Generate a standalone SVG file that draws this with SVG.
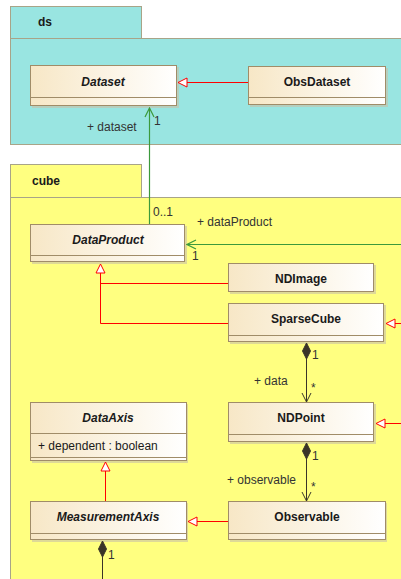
<svg xmlns="http://www.w3.org/2000/svg" width="401" height="579" viewBox="0 0 401 579">
<defs>
<linearGradient id="cls" x1="0" y1="0" x2="1" y2="0">
<stop offset="0" stop-color="#f7e7c6"/>
<stop offset="1" stop-color="#ffffff"/>
</linearGradient>
<marker id="gen" markerWidth="12" markerHeight="12" refX="11" refY="6" orient="auto" markerUnits="userSpaceOnUse">
<path d="M11,6 L2,1.5 L2,10.5 Z" fill="#ffffff" stroke="#ff0000" stroke-width="1"/>
</marker>
<marker id="open" markerWidth="12" markerHeight="12" refX="11" refY="6" orient="auto" markerUnits="userSpaceOnUse">
<path d="M2,1.5 L11,6 L2,10.5" fill="none" stroke="#3a3a2a" stroke-width="1"/>
</marker>
<marker id="openg" markerWidth="12" markerHeight="12" refX="11" refY="6" orient="auto" markerUnits="userSpaceOnUse">
<path d="M2,1.5 L11,6 L2,10.5" fill="none" stroke="#3c9a3c" stroke-width="1.2"/>
</marker>
<marker id="dia" markerWidth="20" markerHeight="12" refX="1" refY="6" orient="auto" markerUnits="userSpaceOnUse">
<path d="M1,6 L9,2 L17,6 L9,10 Z" fill="#3a3428" stroke="#3a3428" stroke-width="1"/>
</marker>
</defs>
<style>
.pkg{stroke:#a8a488;stroke-width:1}
.cls{fill:url(#cls);stroke:#a08c68;stroke-width:1}
.div{stroke:#a08c68;stroke-width:1}
.shadow{fill:#c8c0a8;opacity:0.6}
.t{font-family:"Liberation Sans",Arial,sans-serif;font-size:12px;fill:#1a1a1a}
.nm{font-weight:bold;text-anchor:middle}
.it{font-style:italic}
.gen{stroke:#ff0000;stroke-width:1;fill:none}
.comp{stroke:#3a3428;stroke-width:1;fill:none}
.grn{stroke:#3c9a3c;stroke-width:1.2;fill:none}
.lbl{font-family:"Liberation Sans",Arial,sans-serif;font-size:12px;fill:#333333}
</style>
<g id="pkg-ds">
<rect class="pkg" x="10.5" y="6.5" width="131" height="32" fill="#99e5e1"/>
<rect class="pkg" x="10.5" y="38.5" width="400" height="106" fill="#99e5e1"/>
<text class="t" x="38" y="26" font-weight="bold">ds</text>
</g>
<g id="pkg-cube">
<rect class="pkg" x="10.5" y="164.5" width="131" height="33" fill="#ffff80"/>
<rect class="pkg" x="10.5" y="197.5" width="400" height="400" fill="#ffff80"/>
<text class="t" x="32" y="185" font-weight="bold">cube</text>
</g>
<g id="Dataset">
<rect class="shadow" x="32" y="67" width="147" height="41"/>
<rect class="cls" x="30.5" y="65.5" width="146" height="40"/>
<line class="div" x1="30.5" y1="97.5" x2="176.5" y2="97.5"/>
<text class="t nm it" x="103" y="86">Dataset</text>
</g>
<g id="ObsDataset">
<rect class="shadow" x="250" y="68" width="138" height="39"/>
<rect class="cls" x="248.5" y="66.5" width="137" height="38"/>
<line class="div" x1="248.5" y1="97.5" x2="385.5" y2="97.5"/>
<text class="t nm" x="317" y="86">ObsDataset</text>
</g>
<g id="DataProduct">
<rect class="shadow" x="32" y="226" width="155" height="38"/>
<rect class="cls" x="30.5" y="224.5" width="154" height="37"/>
<line class="div" x1="30.5" y1="255.5" x2="184.5" y2="255.5"/>
<text class="t nm it" x="108" y="244">DataProduct</text>
</g>
<g id="NDImage">
<rect class="shadow" x="230" y="265" width="146" height="29"/>
<rect class="cls" x="228.5" y="263.5" width="145" height="28"/>
<text class="t nm" x="301" y="283">NDImage</text>
</g>
<g id="SparseCube">
<rect class="shadow" x="230" y="305" width="156" height="39"/>
<rect class="cls" x="228.5" y="303.5" width="155" height="38"/>
<line class="div" x1="228.5" y1="335.5" x2="383.5" y2="335.5"/>
<text class="t nm" x="306" y="323">SparseCube</text>
</g>
<g id="NDPoint">
<rect class="shadow" x="230" y="404" width="146" height="40"/>
<rect class="cls" x="228.5" y="402.5" width="145" height="39"/>
<line class="div" x1="228.5" y1="434.5" x2="373.5" y2="434.5"/>
<text class="t nm" x="301" y="422">NDPoint</text>
</g>
<g id="DataAxis">
<rect class="shadow" x="32" y="404" width="156" height="59"/>
<rect class="cls" x="30.5" y="402.5" width="156" height="58"/>
<line class="div" x1="30.5" y1="433.5" x2="186.5" y2="433.5"/>
<line class="div" x1="30.5" y1="457.5" x2="186.5" y2="457.5"/>
<text class="t nm it" x="108" y="422">DataAxis</text>
<text class="t" x="38" y="450" fill="#333333">+ dependent : boolean</text>
</g>
<g id="MeasurementAxis">
<rect class="shadow" x="32" y="503" width="156" height="39"/>
<rect class="cls" x="30.5" y="501.5" width="156" height="38"/>
<line class="div" x1="30.5" y1="533.5" x2="186.5" y2="533.5"/>
<text class="t nm it" x="108" y="521">MeasurementAxis</text>
</g>
<g id="Observable">
<rect class="shadow" x="230" y="503" width="157" height="39"/>
<rect class="cls" x="228.5" y="501.5" width="157" height="38"/>
<line class="div" x1="228.5" y1="533.5" x2="385.5" y2="533.5"/>
<text class="t nm" x="307" y="521">Observable</text>
</g>
<g id="connectors">
<line class="gen" x1="248" y1="82.5" x2="178" y2="82.5" marker-end="url(#gen)"/>
<path class="grn" d="M149.5,224 L149.5,108" marker-end="url(#openg)"/>
<path class="grn" d="M401,244.5 L187,244.5" marker-end="url(#openg)"/>
<path class="gen" d="M228,283.5 L100.5,283.5"/>
<path class="gen" d="M228,323.5 L100.5,323.5 L100.5,264" marker-end="url(#gen)"/>
<line class="gen" x1="401" y1="323.5" x2="386" y2="323.5" marker-end="url(#gen)"/>
<line class="gen" x1="401" y1="423.5" x2="376" y2="423.5" marker-end="url(#gen)"/>
<line class="gen" x1="105.5" y1="501" x2="105.5" y2="462" marker-end="url(#gen)"/>
<line class="gen" x1="228" y1="521.5" x2="188" y2="521.5" marker-end="url(#gen)"/>
<path class="comp" d="M306.5,343 L306.5,402" marker-start="url(#dia)" marker-end="url(#open)"/>
<path class="comp" d="M306.5,443 L306.5,501" marker-start="url(#dia)" marker-end="url(#open)"/>
<path class="comp" d="M102.5,541 L102.5,579" marker-start="url(#dia)"/>
<text class="lbl" x="87" y="131">+ dataset</text>
<text class="lbl" x="154" y="125">1</text>
<text class="lbl" x="153" y="216">0..1</text>
<text class="lbl" x="197" y="226">+ dataProduct</text>
<text class="lbl" x="192" y="260">1</text>
<text class="lbl" x="312" y="359">1</text>
<text class="lbl" x="254" y="385">+ data</text>
<text class="lbl" x="311" y="392">*</text>
<text class="lbl" x="312" y="460">1</text>
<text class="lbl" x="227" y="484">+ observable</text>
<text class="lbl" x="311" y="491">*</text>
<text class="lbl" x="108" y="559">1</text>
</g>
</svg>
